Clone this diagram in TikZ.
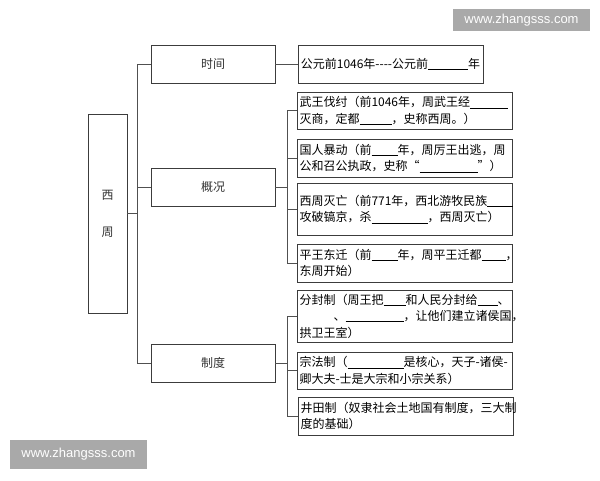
\documentclass[tikz,border=0pt]{standalone}
\usepackage{fontspec}
\setmainfont{Noto Sans CJK SC}
\newfontfamily\wmfont{Liberation Sans}
\newcommand\blank[1]{\rule[-1.5pt]{#1pt}{0.6pt}}
\definecolor{boxline}{HTML}{3C3C3C}
\definecolor{conn}{HTML}{505050}
\definecolor{wmgray}{HTML}{A9A9A9}
\begin{document}
\begin{tikzpicture}[x=1pt,y=-1pt,
  lbox/.style={draw=boxline, line width=0.9pt, minimum width=124pt, minimum height=38pt,
    inner sep=0pt, font=\fontsize{12}{14}\selectfont, text=black!80},
  rbox/.style={draw=boxline, line width=0.9pt, inner xsep=2pt, inner ysep=0pt,
    text width=211pt, align=left, font=\fontsize{12}{16.5}\selectfont},
  conline/.style={draw=conn, line width=0.8pt},
  wm/.style={fill=wmgray, text=white, font=\wmfont\fontsize{13}{15}\selectfont, inner sep=0pt}]
\useasboundingbox[fill=white] (0,0) rectangle (600,480);

% root
\node[draw=boxline, line width=0.9pt, minimum width=39pt, minimum height=199pt, inner sep=0pt,
  align=center, font=\fontsize{12}{37}\selectfont, text=black!80] (xz) at (107.5,213.5) {西\\周};

% second level
\node[lbox] (sj) at (213,64) {时间};
\node[lbox] (gk) at (213,187) {概况};
\node[lbox] (zd) at (213,363) {制度};

% right boxes
\node[rbox, text width=181pt, align=center, minimum height=38pt] (r0) at (390.5,64)
  {公元前1046年{-}{-}{-}{-}公元前\blank{40}年};
\node[rbox, minimum height=37pt] (r1) at (405,110.5)
  {武王伐纣（前1046年，周武王经\blank{38}\\灭商，定都\blank{32}，史称西周。）};
\node[rbox, minimum height=38pt] (r2) at (405,158)
  {国人暴动（前\blank{26}年，周厉王出逃，周\\公和召公执政，史称“\blank{58}”）};
\node[rbox, minimum height=52pt] (r3) at (405,209)
  {西周灭亡（前771年，西北游牧民族\blank{26}\\攻破镐京，杀\blank{56}，西周灭亡）};
\node[rbox, minimum height=38pt] (r4) at (405,263)
  {平王东迁（前\blank{26}年，周平王迁都\blank{24}，\\东周开始）};
\node[rbox, minimum height=52pt] (r5) at (405,316)
  {分封制（周王把\blank{22}和人民分封给\blank{20}、\\\hspace*{34pt}、\blank{58}，让他们建立诸侯国，\\拱卫王室）};
\node[rbox, minimum height=37pt] (r6) at (405,370.5)
  {宗法制（\blank{56}是核心，天子-诸侯-\\卿大夫-士是大宗和小宗关系）};
\node[rbox, minimum height=38pt] (r7) at (406,416)
  {井田制（奴隶社会土地国有制度，三大制\\度的基础）};

% connectors left
\draw[conline] (sj.west) -- ++(-13,0) |- (xz.east);
\draw[conline] (gk.west) -- ++(-13,0) |- (xz.east);
\draw[conline] (zd.west) -- ++(-13,0) |- (xz.east);

% connectors right
\draw[conline] (sj.east) -- (r0.west);
\foreach \r in {r1,r2,r3,r4}{
  \draw[conline] (gk.east) -- ++(12,0) |- (\r.west);
}
\foreach \r in {r5,r6,r7}{
  \draw[conline] (zd.east) -- ++(12,0) |- (\r.west);
}

% watermarks
\node[wm, minimum width=137pt, minimum height=22pt] (wm1) at (521.5,20) {www.zhangsss.com};
\node[wm, minimum width=137pt, minimum height=29pt] (wm2) at (78.5,454.5) {www.zhangsss.com};
\end{tikzpicture}
\end{document}
